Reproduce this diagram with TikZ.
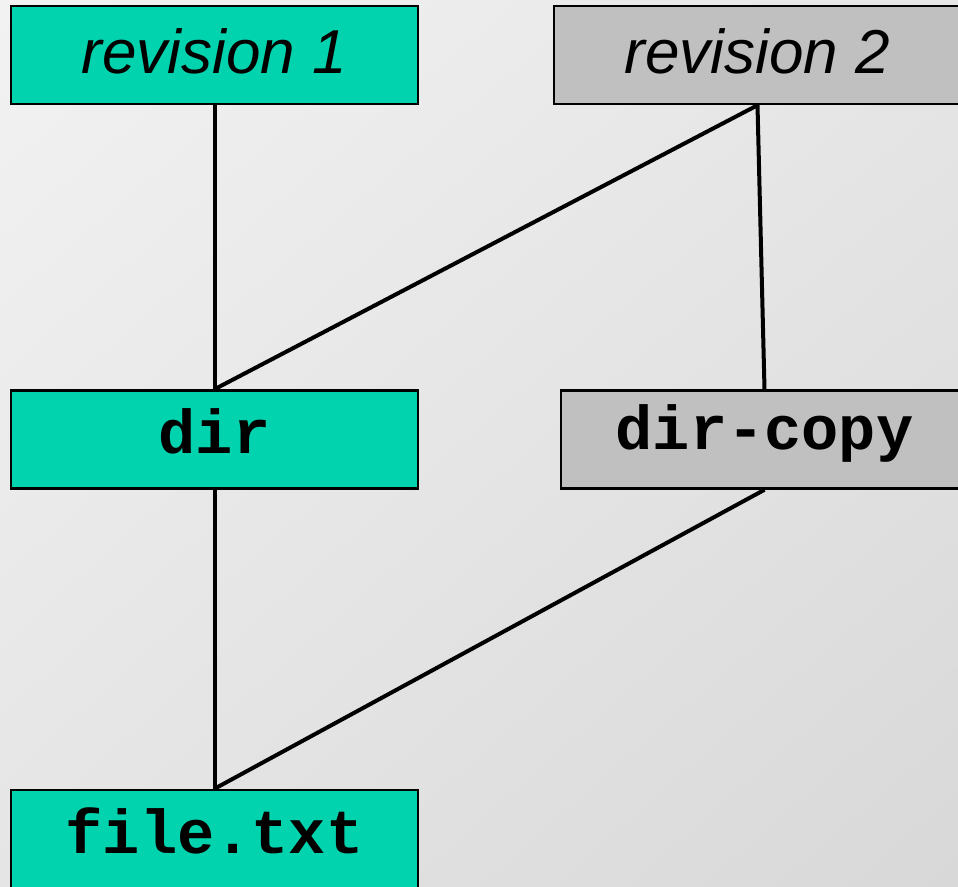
\documentclass[tikz,border=0pt]{standalone}
\usepackage{fontspec}
\usetikzlibrary{shadings}
\setmainfont{Liberation Sans}
\setmonofont{Liberation Mono}
\definecolor{tealbox}{HTML}{00D3AE}
\definecolor{graybox}{HTML}{C0C0C0}
\definecolor{bgul}{HTML}{F2F2F2}
\definecolor{bgur}{HTML}{E6E6E6}
\definecolor{bgll}{HTML}{E5E5E5}
\definecolor{bglr}{HTML}{D8D8D8}
\begin{document}
\begin{tikzpicture}[x=1pt,y=-1pt,
  box/.style={draw=black, line width=2.5pt, rectangle, minimum width=407pt, minimum height=98pt, inner sep=0pt, font=\fontsize{62}{62}\selectfont},
  revtext/.style={font=\fontsize{62}{62}\selectfont\itshape, text height=36pt, text depth=0pt},
  codetext/.style={font=\fontsize{62}{62}\selectfont\ttfamily\bfseries, text height=28pt, text depth=0pt},
  link/.style={draw=black, line width=4pt}]
\useasboundingbox (0,0) rectangle (958,886);
\clip (0,0) rectangle (958,886);
\shade[upper left=bgul, upper right=bgur, lower left=bgll, lower right=bglr] (0,0) rectangle (958,886);
\node[box, fill=tealbox, revtext] (r1) at (214.5,55) {revision 1};
\node[box, fill=graybox, revtext] (r2) at (757.5,55) {revision 2};
\node[box, fill=tealbox, codetext] (d) at (214.5,439.5) {dir};
\node[box, fill=graybox, codetext, text height=20pt] (dc) at (764.5,439.5) {dir-copy};
\node[box, fill=tealbox, codetext] (f) at (214.5,839) {file.txt};
\draw[link] (r1.south) -- (d.north);
\draw[link] (r2.south) -- (d.north);
\draw[link] (r2.south) -- (dc.north);
\draw[link] (d.south) -- (f.north);
\draw[link] (dc.south) -- (f.north);
\end{tikzpicture}
\end{document}
